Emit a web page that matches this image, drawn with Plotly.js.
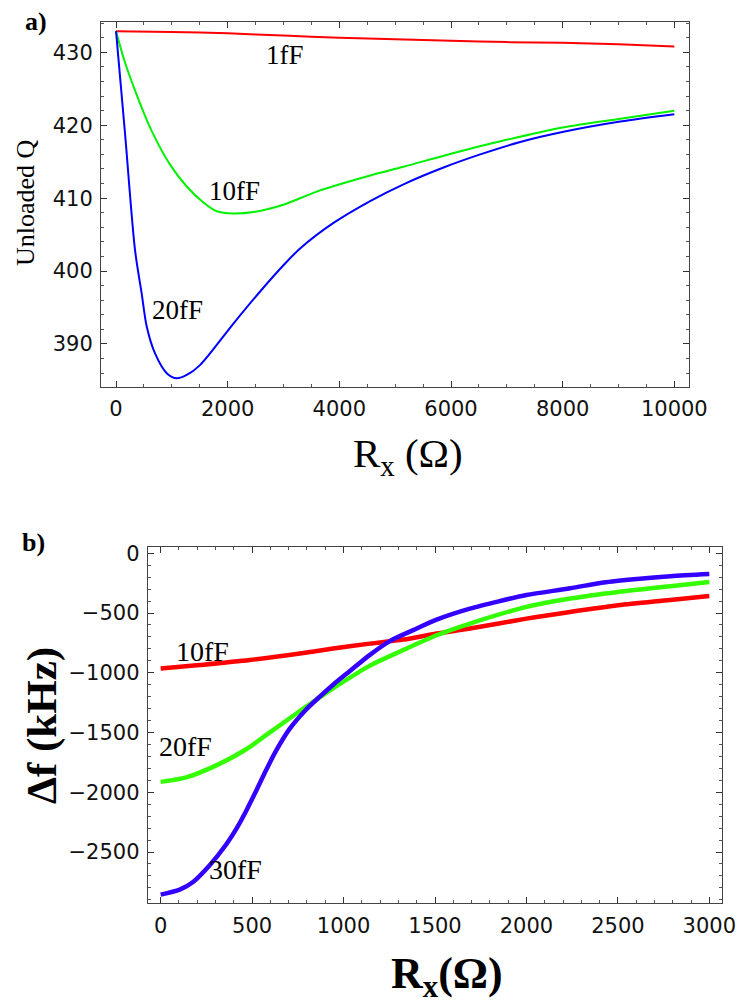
<!DOCTYPE html>
<html>
<head>
<meta charset="utf-8">
<script src="https://cdn.plot.ly/plotly-3.0.1.min.js"></script>
<style>html,body{margin:0;padding:0;background:#fff;}#chart{width:741px;height:1004px;}</style>
</head>
<body>
<div id="chart"></div>
<script>
// ---- Panel a) Unloaded Q vs Rx ----
const a_x_1fF = [0, 1000, 2000, 3000, 4000, 5000, 6000, 7000, 8000, 9000, 10000];
const a_q_1fF = [432.9, 432.8, 432.6, 432.3, 432.0, 431.8, 431.6, 431.4, 431.3, 431.1, 430.8];

const a_x_10fF = [0, 161, 430, 640, 968, 1267, 1565, 1804, 2103, 2461, 2999, 3596, 4552, 5149, 6000, 6941, 8000, 9032, 10000];
const a_q_10fF = [432.9, 428.6, 423.0, 419.2, 414.6, 411.6, 409.4, 408.2, 407.9, 408.1, 409.1, 410.9, 413.1, 414.3, 416.1, 417.9, 419.7, 420.9, 422.0];

const a_x_20fF = [0, 161, 340, 460, 550, 699, 908, 1087, 1267, 1505, 2103, 2581, 2999, 3297, 3895, 4552, 5149, 5866, 6523, 7240, 8017, 9032, 10000];
const a_q_20fF = [432.9, 418.9, 402.9, 396.9, 392.4, 388.7, 386.0, 385.3, 385.75, 387.1, 392.8, 397.2, 400.8, 403.1, 406.6, 409.6, 411.9, 414.2, 416.0, 417.7, 419.1, 420.5, 421.5];

const a_xticks = [0, 2000, 4000, 6000, 8000, 10000];
const a_xticktext = ['0', '2000', '4000', '6000', '8000', '10000'];
const a_yticks = [390, 400, 410, 420, 430];
const a_labels = ["1fF", "10fF", "20fF"];
const a_label_x = [3029, 2115, 1102];
const a_label_y = [429.7, 411.0, 394.7];

// ---- Panel b) Δf vs Rx ----
const b_x_10fF = [0, 213, 487, 761, 943, 1144, 1326, 1509, 1691, 2000, 2239, 2501, 2786, 3000];
const b_f_10fF = [-965, -935, -893, -839, -797, -756, -722, -672, -630, -547, -491, -435, -391, -357];

const b_x_20fF = [0, 140, 304, 468, 578, 761, 870, 943, 1144, 1326, 1509, 1691, 2000, 2239, 2501, 2786, 3000];
const b_f_20fF = [-1913, -1875, -1775, -1640, -1520, -1320, -1205, -1130, -940, -810, -686, -588, -449, -379, -324, -276, -240];

const b_x_30fF = [0, 104, 177, 268, 359, 420, 468, 520, 578, 632, 705, 797, 870, 943, 1035, 1144, 1253, 1381, 1509, 1691, 1874, 2000, 2239, 2421, 2604, 2786, 3000];
const b_f_30fF = [-2856, -2814, -2750, -2610, -2435, -2290, -2155, -1995, -1810, -1650, -1470, -1305, -1200, -1100, -985, -850, -735, -643, -555, -463, -393, -349, -293, -245, -215, -192, -174];

const b_xticks = [0, 500, 1000, 1500, 2000, 2500, 3000];
const b_yticks = [-2500, -2000, -1500, -1000, -500, 0];
const b_labels = ["10fF", "20fF", "30fF"];
const b_label_x = [230, 137, 410];
const b_label_y = [-826, -1620, -2650];

const RED = '#ff0000', GREEN_A = '#00f000', BLUE_A = '#0000ff';
const GREEN_B = '#33ff00', BLUE_B = '#3300ff';

const traces = [
  {x: a_x_1fF, y: a_q_1fF, xaxis: 'x', yaxis: 'y', mode: 'lines', line: {color: RED, width: 2, shape: 'spline', smoothing: 0.8}},
  {x: a_x_10fF, y: a_q_10fF, xaxis: 'x', yaxis: 'y', mode: 'lines', line: {color: GREEN_A, width: 2, shape: 'spline', smoothing: 0.8}},
  {x: a_x_20fF, y: a_q_20fF, xaxis: 'x', yaxis: 'y', mode: 'lines', line: {color: BLUE_A, width: 2, shape: 'spline', smoothing: 0.8}},
  {x: b_x_10fF, y: b_f_10fF, xaxis: 'x2', yaxis: 'y2', mode: 'lines', line: {color: RED, width: 4.5, shape: 'spline', smoothing: 0.8}},
  {x: b_x_20fF, y: b_f_20fF, xaxis: 'x2', yaxis: 'y2', mode: 'lines', line: {color: GREEN_B, width: 4.5, shape: 'spline', smoothing: 0.8}},
  {x: b_x_30fF, y: b_f_30fF, xaxis: 'x2', yaxis: 'y2', mode: 'lines', line: {color: BLUE_B, width: 4.5, shape: 'spline', smoothing: 0.8}}
];

const tickFont = {family: "DejaVu Sans", size: 21, color: '#111'};
function axisBase(extra) {
  return Object.assign({
    showgrid: false, zeroline: false, showline: true, mirror: 'ticks',
    linecolor: '#444', linewidth: 1, ticks: 'inside', ticklen: 6, tickwidth: 1,
    tickcolor: '#333', tickfont: tickFont, ticklabelstandoff: 3
  }, extra);
}

const serif = 'Liberation Serif';
const annotations = [];
a_labels.forEach((t, i) => annotations.push({x: a_label_x[i], y: a_label_y[i], xref: 'x', yref: 'y', text: t, showarrow: false, xanchor: 'center', yanchor: 'middle', font: {family: serif, size: 27, color: '#000'}}));
b_labels.forEach((t, i) => annotations.push({x: b_label_x[i], y: b_label_y[i], xref: 'x2', yref: 'y2', text: t, showarrow: false, xanchor: 'center', yanchor: 'middle', font: {family: serif, size: 28, color: '#000'}}));
function paperNote(text, px, py, size, angle) {
  return {x: px/741, y: 1 - py/1004, xref: 'paper', yref: 'paper', text: text, showarrow: false,
    xanchor: 'center', yanchor: 'middle', textangle: angle || 0, font: {family: serif, size: size, color: '#000'}};
}
annotations.push(
  paperNote('<b>a)</b>', 36, 22, 26),
  paperNote('<b>b)</b>', 33, 542, 26),
  paperNote('Unloaded Q', 25, 203, 26, -90),
  paperNote('<b>Δf (kHz)</b>', 42, 726, 43, -90),
  paperNote('R<sub>x</sub> (Ω)', 408, 456, 41),
  paperNote('<b>R<sub>x</sub>(Ω)</b>', 447, 976, 44)
);

const layout = {
  width: 741, height: 1004,
  margin: {l: 0, r: 0, t: 0, b: 0},
  paper_bgcolor: '#fff', plot_bgcolor: '#fff',
  showlegend: false,
  xaxis: axisBase({domain: [101/741, 689/741], range: [-269, 10263], tickmode: 'array', tickvals: a_xticks, ticktext: a_xticktext, anchor: 'y',
    minor: {dtick: 500, tick0: 0, ticks: 'inside', ticklen: 3, tickcolor: '#555'}}),
  yaxis: axisBase({domain: [1 - 387/1004, 1 - 22/1004], range: [384.1, 434.16], tickmode: 'array', tickvals: a_yticks, anchor: 'x',
    minor: {dtick: 2, tick0: 0, ticks: 'inside', ticklen: 3, tickcolor: '#555'}}),
  xaxis2: axisBase({domain: [147.7/741, 722.3/741], range: [-71, 3071], tickmode: 'array', tickvals: b_xticks, anchor: 'y2',
    minor: {dtick: 100, tick0: 0, ticks: 'inside', ticklen: 3, tickcolor: '#555'}}),
  yaxis2: axisBase({domain: [1 - 903.3/1004, 1 - 547.3/1004], range: [-2929, 50], tickmode: 'array', tickvals: b_yticks, anchor: 'x2',
    minor: {dtick: 100, tick0: 0, ticks: 'inside', ticklen: 3, tickcolor: '#555'}}),
  annotations: annotations
};

Plotly.newPlot('chart', traces, layout, {displayModeBar: false, staticPlot: true});
</script>
</body>
</html>
